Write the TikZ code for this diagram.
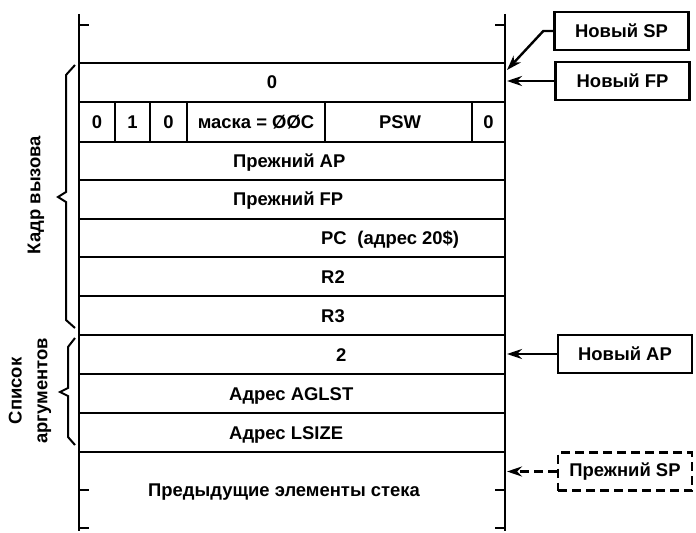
\documentclass[tikz,border=0pt]{standalone}
\usepackage{fontspec}
\setmainfont{Liberation Sans}
\usetikzlibrary{arrows.meta}
\begin{document}
\begin{tikzpicture}[x=1bp,y=-1bp, line width=2.4bp,
  txt/.style={font=\fontsize{18.5}{21}\selectfont\bfseries, inner sep=0pt, text height=13bp, text depth=0bp},
  sidetxt/.style={font=\fontsize{18.5}{26}\selectfont\bfseries, inner sep=0pt, align=center},
  lbl/.style={draw, font=\fontsize{18.5}{21}\selectfont\bfseries, inner sep=0pt, minimum width=134bp, minimum height=38bp},
  ptr/.style={-{Stealth[length=15bp,width=10bp]}},
  bracestyle/.style={line width=2bp, line join=miter}]
\useasboundingbox (0,0) rectangle (696,533);
% stack outline
\draw (79,14) -- (79,531);
\draw (505,14) -- (505,531);
\foreach \yy in {25,490,528} {
  \draw (79,\yy) -- (89,\yy);
  \draw (495,\yy) -- (505,\yy);
}
\foreach \yy in {63,102,142,180,219,257,296,335,374,413,452} {
  \draw (79,\yy) -- (505,\yy);
}
\foreach \xx in {115,150,187,325,472} {
  \draw (\xx,102) -- (\xx,142);
}
% texts
\node[txt] (r0) at (272,82.5) {0};
\node[txt] (c1) at (97,122) {0};
\node[txt] (c2) at (132.5,122) {1};
\node[txt] (c3) at (168.5,122) {0};
\node[txt] (c4) at (256,122) {маска = ØØC};
\node[txt] (c5) at (400,122) {PSW};
\node[txt] (c6) at (488.5,122) {0};
\node[txt, anchor=west] (pap) at (232,161) {Прежний AP};
\node[txt, anchor=west] (pfp) at (232,199.5) {Прежний FP};
\node[txt, anchor=west] (pc) at (320,238) {PC\hspace{0.3em} (адрес 20\$)};
\node[txt, anchor=west] (r2) at (320,276.5) {R2};
\node[txt, anchor=west] (r3) at (320,315.5) {R3};
\node[txt, anchor=west] (two) at (335,354.5) {2};
\node[txt, anchor=west] (agl) at (228,393.5) {Адрес AGLST};
\node[txt, anchor=west] (lsz) at (228,432.5) {Адрес LSIZE};
\node[txt] (prev) at (284,490) {Предыдущие элементы стека};
% braces
\draw[bracestyle] (75,65) -- (66,75) -- (66,192) -- (58,197) -- (66,202) -- (66,320) -- (75,328);
\draw[bracestyle] (75,338) -- (68,347) -- (68,388) -- (60,392) -- (68,396) -- (68,437) -- (75,445);
\node[sidetxt, rotate=90] (kadr) at (36,195) {Кадр вызова};
\node[sidetxt, rotate=90] (spis) at (30,391) {Список\\аргументов};
% pointer boxes
\node[lbl] (nsp) at (621.5,31) {Новый SP};
\node[lbl] (nfp) at (622.5,81) {Новый FP};
\node[lbl] (nap) at (625,354) {Новый AP};
\node[lbl, dash pattern=on 9bp off 5bp] (psp) at (625,471.5) {Прежний SP};
\coordinate (tsp) at (507,70);
\coordinate (tfp) at (507,81);
\coordinate (tap) at (507,354);
\coordinate (tpsp) at (507,471.5);
\draw[ptr] (nsp.west) -- ++(-10,0) -- (tsp);
\draw[ptr] (nfp.west) -- (tfp);
\draw[ptr] (nap.west) -- (tap);
\draw[ptr, dash pattern=on 9bp off 5bp] (psp.west) -- (tpsp);
\end{tikzpicture}
\end{document}
